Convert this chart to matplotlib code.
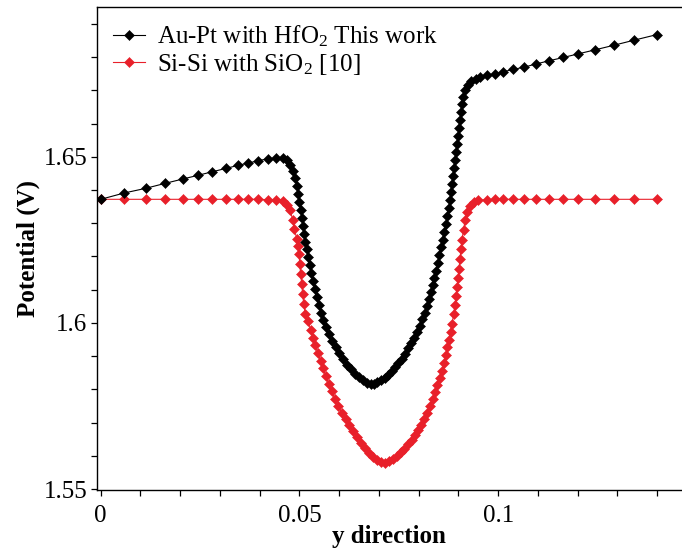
""" Potential along the y direction: Au-Pt/HfO2 against Si-Si/SiO2 """

import matplotlib
matplotlib.use('Agg')
import matplotlib.pyplot as plt
from matplotlib.ticker import FixedLocator, MultipleLocator, FuncFormatter

DPI = 100

LABELS = ['Au-Pt with HfO$_2$ This work', 'Si-Si with SiO$_2$ [10]']
X_TICKS = [0, 0.05, 0.1]
Y_TICKS = [1.55, 1.6, 1.65]

AUPT_X = [0.0000, 0.0059, 0.0113, 0.0162, 0.0206, 0.0244, 0.0281, 0.0315,
          0.0345, 0.0371, 0.0396, 0.0420, 0.0441, 0.0459, 0.0468, 0.0476,
          0.0484, 0.0490, 0.0494, 0.0497, 0.0500, 0.0503, 0.0506, 0.0509,
          0.0512, 0.0515, 0.0519, 0.0522, 0.0526, 0.0530, 0.0534, 0.0539,
          0.0543, 0.0549, 0.0554, 0.0560, 0.0567, 0.0574, 0.0582, 0.0591,
          0.0600, 0.0610, 0.0620, 0.0630, 0.0640, 0.0650, 0.0660, 0.0670,
          0.0679, 0.0688, 0.0696, 0.0705, 0.0714, 0.0723, 0.0732, 0.0740,
          0.0749, 0.0758, 0.0766, 0.0773, 0.0781, 0.0788, 0.0796, 0.0803,
          0.0809, 0.0815, 0.0820, 0.0825, 0.0830, 0.0835, 0.0839, 0.0844,
          0.0848, 0.0852, 0.0856, 0.0860, 0.0864, 0.0869, 0.0872, 0.0876,
          0.0879, 0.0881, 0.0884, 0.0886, 0.0889, 0.0891, 0.0894, 0.0896,
          0.0899, 0.0901, 0.0904, 0.0906, 0.0909, 0.0912, 0.0917, 0.0923,
          0.0932, 0.0943, 0.0954, 0.0973, 0.0992, 0.1013, 0.1038, 0.1066,
          0.1094, 0.1128, 0.1164, 0.1202, 0.1244, 0.1292, 0.1342, 0.1400]
AUPT_V = [1.6372, 1.6391, 1.6405, 1.6420, 1.6433, 1.6444, 1.6455, 1.6465,
          1.6474, 1.6481, 1.6488, 1.6494, 1.6496, 1.6496, 1.6491, 1.6476,
          1.6456, 1.6435, 1.6413, 1.6389, 1.6365, 1.6341, 1.6317, 1.6293,
          1.6269, 1.6245, 1.6221, 1.6197, 1.6173, 1.6149, 1.6125, 1.6101,
          1.6077, 1.6053, 1.6030, 1.6008, 1.5987, 1.5966, 1.5946, 1.5926,
          1.5908, 1.5890, 1.5874, 1.5860, 1.5847, 1.5836, 1.5827, 1.5820,
          1.5817, 1.5817, 1.5821, 1.5827, 1.5835, 1.5844, 1.5854, 1.5866,
          1.5878, 1.5892, 1.5907, 1.5923, 1.5938, 1.5955, 1.5973, 1.5991,
          1.6011, 1.6030, 1.6050, 1.6071, 1.6092, 1.6113, 1.6134, 1.6155,
          1.6179, 1.6203, 1.6227, 1.6251, 1.6275, 1.6299, 1.6323, 1.6347,
          1.6371, 1.6395, 1.6419, 1.6443, 1.6467, 1.6491, 1.6515, 1.6539,
          1.6563, 1.6587, 1.6611, 1.6635, 1.6659, 1.6680, 1.6700, 1.6715,
          1.6727, 1.6733, 1.6739, 1.6745, 1.6749, 1.6756, 1.6763, 1.6770,
          1.6779, 1.6789, 1.6799, 1.6810, 1.6822, 1.6836, 1.6851, 1.6868]

SISI_X = [0.0000, 0.0059, 0.0113, 0.0162, 0.0206, 0.0244, 0.0281, 0.0315,
          0.0345, 0.0371, 0.0396, 0.0420, 0.0441, 0.0459, 0.0469, 0.0476,
          0.0483, 0.0487, 0.0493, 0.0496, 0.0499, 0.0501, 0.0503, 0.0506,
          0.0508, 0.0511, 0.0515, 0.0522, 0.0528, 0.0534, 0.0540, 0.0547,
          0.0553, 0.0559, 0.0567, 0.0574, 0.0582, 0.0589, 0.0598, 0.0607,
          0.0616, 0.0625, 0.0635, 0.0645, 0.0655, 0.0665, 0.0675, 0.0685,
          0.0695, 0.0705, 0.0715, 0.0725, 0.0735, 0.0745, 0.0756, 0.0764,
          0.0773, 0.0782, 0.0791, 0.0798, 0.0806, 0.0813, 0.0821, 0.0828,
          0.0835, 0.0841, 0.0847, 0.0854, 0.0859, 0.0864, 0.0869, 0.0872,
          0.0876, 0.0880, 0.0884, 0.0888, 0.0891, 0.0894, 0.0896, 0.0899,
          0.0901, 0.0904, 0.0906, 0.0909, 0.0913, 0.0917, 0.0922, 0.0929,
          0.0939, 0.0949, 0.0973, 0.0992, 0.1013, 0.1038, 0.1066, 0.1094,
          0.1128, 0.1164, 0.1202, 0.1244, 0.1292, 0.1342, 0.1400]
SISI_V = [1.6372, 1.6372, 1.6372, 1.6372, 1.6372, 1.6372, 1.6372, 1.6372,
          1.6372, 1.6372, 1.6372, 1.6371, 1.6370, 1.6366, 1.6356, 1.6341,
          1.6311, 1.6284, 1.6254, 1.6230, 1.6206, 1.6176, 1.6146, 1.6116,
          1.6086, 1.6056, 1.6026, 1.6005, 1.5980, 1.5956, 1.5932, 1.5908,
          1.5884, 1.5863, 1.5839, 1.5815, 1.5794, 1.5770, 1.5749, 1.5728,
          1.5710, 1.5692, 1.5674, 1.5656, 1.5638, 1.5623, 1.5608, 1.5596,
          1.5587, 1.5580, 1.5579, 1.5583, 1.5590, 1.5599, 1.5610, 1.5620,
          1.5634, 1.5647, 1.5662, 1.5677, 1.5694, 1.5712, 1.5730, 1.5749,
          1.5770, 1.5791, 1.5812, 1.5833, 1.5854, 1.5878, 1.5902, 1.5926,
          1.5950, 1.5974, 1.5998, 1.6026, 1.6053, 1.6080, 1.6107, 1.6134,
          1.6161, 1.6191, 1.6221, 1.6251, 1.6281, 1.6311, 1.6335, 1.6353,
          1.6365, 1.6369, 1.6371, 1.6372, 1.6372, 1.6372, 1.6372, 1.6372,
          1.6372, 1.6372, 1.6372, 1.6372, 1.6372, 1.6372, 1.6372]

RED = '#e8202a'


def potential_plot():
    """ Draw both potential profiles """
    plt.rcParams['font.family'] = ['Liberation Serif', 'DejaVu Serif']
    plt.rcParams['mathtext.fontset'] = 'custom'
    plt.rcParams['mathtext.rm'] = 'Liberation Serif'
    plt.rcParams['mathtext.it'] = 'Liberation Serif:italic'

    fig = plt.figure(figsize=(682 / DPI, 552 / DPI), dpi=DPI)
    axes = fig.add_axes([0.1415, 0.1123, 0.8585, 0.8745])

    axes.plot(SISI_X, SISI_V, color=RED, linewidth=0.8, marker='D',
              markersize=5.4, markeredgewidth=0.4, label=LABELS[1])
    axes.plot(AUPT_X, AUPT_V, color='black', linewidth=0.8, marker='D',
              markersize=5.4, markeredgewidth=0.4, label=LABELS[0])

    axes.set_xlim(-0.00106, 0.14624)
    axes.set_ylim(1.5497, 1.6950)
    axes.spines['right'].set_visible(False)
    for side in ('left', 'bottom', 'top'):
        axes.spines[side].set_linewidth(1.0)

    fmt = FuncFormatter(lambda v, _: f'{v:g}')
    axes.xaxis.set_major_locator(FixedLocator(X_TICKS))
    axes.yaxis.set_major_locator(FixedLocator(Y_TICKS))
    axes.xaxis.set_major_formatter(fmt)
    axes.yaxis.set_major_formatter(fmt)
    axes.xaxis.set_minor_locator(MultipleLocator(0.01))
    axes.yaxis.set_minor_locator(MultipleLocator(0.01))
    axes.tick_params(which='both', direction='out', length=4.5, width=0.9,
                     labelsize=18, top=False, right=False)
    axes.tick_params(axis='y', pad=2)
    axes.tick_params(axis='x', pad=6)

    axes.set_xlabel('y direction', fontsize=18, fontweight='bold', labelpad=-1)
    axes.set_ylabel('Potential (V)', fontsize=18, fontweight='bold', labelpad=3)

    handles, labels = axes.get_legend_handles_labels()
    axes.legend(handles[::-1], labels[::-1], loc='upper left', frameon=False,
                fontsize=18, handlelength=1.3, handletextpad=0.45,
                labelspacing=0.12, borderaxespad=0.3, borderpad=0.35)

    fig.savefig('out.png', dpi=DPI)


if __name__ == '__main__':
    potential_plot()
